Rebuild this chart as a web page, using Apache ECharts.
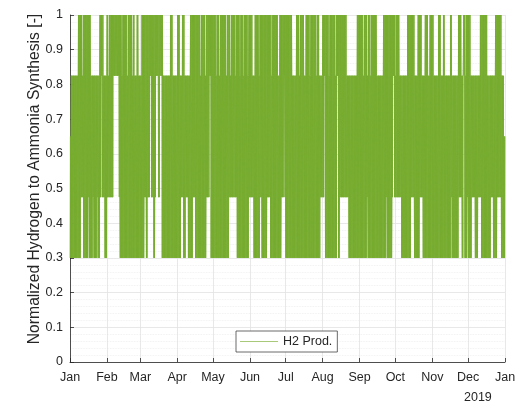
<!DOCTYPE html>
<html>
<head>
<meta charset="utf-8">
<script src="https://cdn.jsdelivr.net/npm/echarts@6/dist/echarts.min.js"></script>
<style>
html,body{margin:0;padding:0;background:#fff;}
#chart{width:528px;height:402px;}
</style>
</head>
<body>
<div id="chart"></div>
<script>
// Discrete output levels of the normalized H2 production
var levels = [0.3, 0.475, 0.65, 0.825, 1.0];
// Daily range codes: letter -> [lowest level index, highest level index]
var rangeCodes = {A:[0,4], B:[0,3], C:[1,4], D:[1,3], E:[3,4], F:[0,2]};
// One string per month, one letter per day (2018)
var monthCodes = [
  "FBBBBBBAACDAAAACABBDBBBDBCECDBB",
  "CDCCCEEEEECABAAAABAAABABBABB",
  "BAACCACCECCACEECEEABBBBBBAABBBB",
  "AABDCABDDBBAACCAAAABAAABCCCEAA",
  "AABAABAAAAABACDCCCDCAABAABAAABC",
  "CCDBAAABCCAAAACCCABAAAABBACCEC",
  "AAAAABBBBAABAAABBAAABAAAABAABDD",
  "CEAAABAAAABAEACCCCCCDDBBBBBBBAA",
  "AAABAADAABAAAABBBBBBAACAAAACEC",
  "DCCDDBBBBBAAACCCBBBACCDBBAABBAA",
  "ABBBBAABBABBBBBADBBBBBCCDBEBAC",
  "AABDDDBBDDCAAAAABBBDDBBACCCCBBF"
];
var monthStarts = [0,31,59,90,120,151,181,212,243,273,304,334,365];
var monthLabels = ["Jan","Feb","Mar","Apr","May","Jun","Jul","Aug","Sep","Oct","Nov","Dec","Jan"];
var yearLabel = "2019";
var seriesName = "H2 Prod.";

// Build the line: within each day the output swings between its lowest and highest level
var swingsPerDay = 4;
var data = [];
var prev = null;
var day = 0;
monthCodes.forEach(function(s){
  for (var i = 0; i < s.length; i++) {
    var r = rangeCodes[s[i]];
    var lo = levels[r[0]], hi = levels[r[1]];
    var a = lo, b = hi;
    if (prev !== null && Math.abs(prev - hi) < Math.abs(prev - lo)) { a = hi; b = lo; }
    for (var k = 0; k < swingsPerDay; k++) {
      var v = (k % 2 === 0) ? a : b;
      data.push([day + (k + 0.5) / swingsPerDay, v]);
      prev = v;
    }
    day++;
  }
});

var chart = echarts.init(document.getElementById('chart'), null, {renderer:'canvas'});
var txt = '#262626';
var font = 'Liberation Sans, Arial, Helvetica, sans-serif';
chart.setOption({
  animation: false,
  backgroundColor: '#ffffff',
  grid: {left: 70, right: 23, top: 15, bottom: 40, containLabel: false},
  legend: {
    show: true,
    left: 236, top: 331,
    padding: [4, 5, 4, 4],
    borderColor: '#444', borderWidth: 0.8,
    backgroundColor: '#ffffff',
    itemWidth: 38, itemHeight: 1,
    textStyle: {color: txt, fontSize: 12.5, fontFamily: font, padding: [0,0,0,0]},
    data: [{name: seriesName, icon: 'rect', itemStyle: {color: '#a9c97a'}}]
  },
  xAxis: {
    type: 'value', min: 0, max: 365,
    axisLine: {show: true, lineStyle: {color: txt, width: 0.8}},
    axisTick: {show: true, inside: true, length: 4, lineStyle: {color: txt, width: 0.8}, customValues: monthStarts},
    axisLabel: {show: true, customValues: monthStarts, color: txt, fontSize: 12.5, fontFamily: font, margin: 9,
      formatter: function(v){ var k = monthStarts.indexOf(v); return k >= 0 ? monthLabels[k] : ''; }},
    splitLine: {show: true, lineStyle: {color: '#e2e2e2', width: 0.8}}
  },
  yAxis: {
    type: 'value', min: 0, max: 1, interval: 0.1,
    name: 'Normalized Hydrogen to Ammonia Synthesis [-]',
    nameLocation: 'middle', nameGap: 27, nameMoveOverlap: false,
    nameTextStyle: {color: txt, fontSize: 15.7, fontFamily: font, padding: [0, 0, 0, 19]},
    axisLine: {show: true, lineStyle: {color: txt, width: 0.8}},
    axisTick: {show: true, inside: true, length: 4, lineStyle: {color: txt, width: 0.8}},
    axisLabel: {color: txt, fontSize: 12.5, fontFamily: font, margin: 7},
    splitLine: {show: true, lineStyle: {color: '#e2e2e2', width: 0.8}},
    minorTick: {show: false, splitNumber: 5},
    minorSplitLine: {show: true, lineStyle: {color: '#eeeeee', width: 0.8, type: 'dotted'}}
  },
  graphic: [{
    type: 'text', left: 464, top: 391,
    style: {text: yearLabel, fill: txt, font: '12.5px ' + font}
  }],
  series: [{
    name: seriesName,
    type: 'line',
    data: data,
    symbol: 'none',
    showSymbol: false,
    lineStyle: {color: '#77AC30', width: 1},
    itemStyle: {color: '#77AC30'},
    z: 3
  }]
});
</script>
</body>
</html>
